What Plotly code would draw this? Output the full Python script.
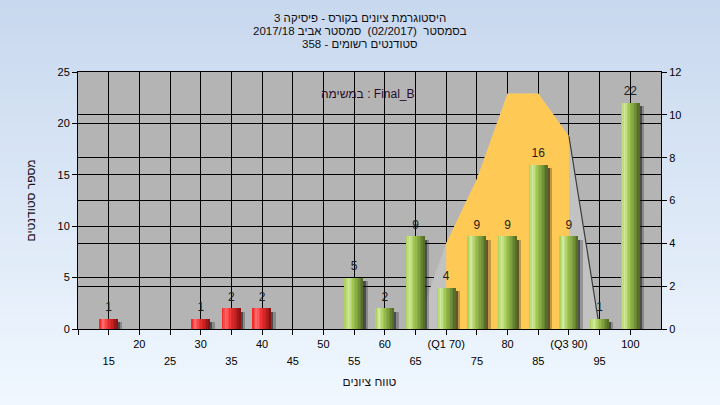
import plotly.graph_objects as go

# ---------------- data ----------------
categories = [15, 20, 25, 30, 35, 40, 45, 50, 55, 60, 65, 70, 75, 80, 85, 90, 95, 100]
counts = [1, 0, 0, 1, 2, 2, 0, 0, 5, 2, 9, 4, 9, 9, 16, 9, 1, 22]
pass_mark = 55

row1_vals = [10, 20, 30, 40, 50, 60, 70, 80, 90, 100]
row1_text = ["", "20", "30", "40", "50", "60", "(Q1 70)", "80", "(Q3 90)", "100"]
row2_vals = [15, 25, 35, 45, 55, 65, 75, 85, 95]
row2_text = ["15", "25", "35", "45", "55", "65", "75", "85", "95"]

curve_x = [65, 70, 75, 80, 85, 90, 95]
curve_y = [0, 4, 7, 11, 11, 9, 0]
q1, q3 = 70, 90

title_lines = [
    "היסטוגרמת ציונים בקורס - פיסיקה 3",
    "בסמסטר  (02/2017)  סמסטר אביב 2017/18",
    "סטודנטים רשומים - 358",
]
task_label = "במשימה : Final_B"
x_title = "טווח ציונים"
y_title = "מספר סטודנטים"

# ---------------- style helpers ----------------
W, H = 720, 405
ML, MR, MT, MB = 78, 59, 72, 76
PW, PH = W - ML - MR, H - MT - MB
FONT = "Liberation Sans, Arial, sans-serif"
BAR_W = 3.0
N_STRIPS = 12


def hex2rgb(h):
    h = h.lstrip("#")
    return tuple(int(h[i:i + 2], 16) for i in (0, 2, 4))


def interp(stops, t):
    for (t0, c0), (t1, c1) in zip(stops, stops[1:]):
        if t0 <= t <= t1:
            f = 0 if t1 == t0 else (t - t0) / (t1 - t0)
            a, b = hex2rgb(c0), hex2rgb(c1)
            return "rgb(%d,%d,%d)" % tuple(round(a[i] + (b[i] - a[i]) * f) for i in range(3))
    return stops[-1][1]


def py(pix):  # pixel row -> paper y
    return (H - MB - pix) / PH


red_stops = [(0, "#f01c1c"), (0.22, "#ff6c6c"), (0.45, "#f23434"), (0.75, "#c01e1e"), (1.0, "#7c1212")]
green_stops = [(0, "#a4cc52"), (0.22, "#d2ea9e"), (0.45, "#a2c652"), (0.75, "#7a9a3c"), (1.0, "#4c6824")]

fig = go.Figure()

# ---------------- area (right axis) ----------------
fig.add_trace(go.Scatter(
    x=curve_x, y=curve_y, mode="lines", fill="tozeroy",
    fillcolor="#c2c2c2", line=dict(width=0, color="#c2c2c2"),
    xaxis="x", yaxis="y2", hoverinfo="skip", showlegend=False))
mid_x = [x for x in curve_x if q1 <= x <= q3]
mid_y = [y for x, y in zip(curve_x, curve_y) if q1 <= x <= q3]
fig.add_trace(go.Scatter(
    x=mid_x, y=mid_y, mode="lines", fill="tozeroy",
    fillcolor="#fec955", line=dict(width=0, color="#fec955"),
    xaxis="x", yaxis="y2", hoverinfo="skip", showlegend=False))
edge_x = [x for x in curve_x if x >= q3]
edge_y = [y for x, y in zip(curve_x, curve_y) if x >= q3]
fig.add_trace(go.Scatter(
    x=edge_x, y=edge_y, mode="lines",
    line=dict(width=1.2, color="#3c3c3c"),
    xaxis="x", yaxis="y2", hoverinfo="skip", showlegend=False))

# ---------------- bars (left axis) ----------------
bx = [c for c, v in zip(categories, counts) if v > 0]
bv = [v for v in counts if v > 0]

# shadows
for off, wd, col in [(BAR_W / 2, 0.35, "rgba(20,20,20,0.65)"),
                     (BAR_W / 2 + 0.35, 0.4, "rgba(40,40,40,0.3)")]:
    fig.add_trace(go.Bar(
        x=bx, y=[v - 0.35 for v in bv], width=wd, offset=off,
        marker=dict(color=col, line=dict(width=0)),
        xaxis="x", yaxis="y", hoverinfo="skip", showlegend=False))

# gradient strips (cylinder look)
sw = BAR_W / N_STRIPS
for i in range(N_STRIPS):
    t = (i + 0.5) / N_STRIPS
    cols = [interp(red_stops, t) if c < pass_mark else interp(green_stops, t) for c in bx]
    fig.add_trace(go.Bar(
        x=bx, y=bv, width=sw * 1.08, offset=-BAR_W / 2 + i * sw,
        marker=dict(color=cols, line=dict(width=0)),
        xaxis="x", yaxis="y", hoverinfo="skip", showlegend=False))

# value labels (on the second x axis so that it is drawn)
fig.add_trace(go.Scatter(
    x=bx, y=bv, mode="markers+text", text=[str(v) for v in bv],
    marker=dict(size=6, color="rgba(0,0,0,0)"),
    textposition="top center", textfont=dict(family=FONT, size=12, color="#1e1e1e"),
    xaxis="x2", yaxis="y", hoverinfo="skip", showlegend=False, cliponaxis=False))

# ---------------- background gradient ----------------
shapes = []
n_bg = 45
px0, px1 = -ML / PW, (W - ML) / PW
top_c, bot_c = hex2rgb("#c8d8ee"), hex2rgb("#f0f7ff")
for k in range(n_bg):
    f = k / (n_bg - 1)
    col = "rgb(%d,%d,%d)" % tuple(round(top_c[i] + (bot_c[i] - top_c[i]) * f) for i in range(3))
    ytop = py(k * H / n_bg)
    ybot = py((k + 1) * H / n_bg)
    shapes.append(dict(type="rect", xref="paper", yref="paper", x0=px0, x1=px1,
                       y0=ybot - 0.002, y1=ytop, fillcolor=col, line=dict(width=0), layer="below"))
shapes.append(dict(type="rect", xref="paper", yref="paper", x0=0, x1=1, y0=0, y1=1,
                   fillcolor="#b4b4b4", line=dict(width=0), layer="below"))

axis_common = dict(ticks="outside", ticklen=5, tickcolor="black", tickwidth=1,
                   showgrid=True, gridcolor="black", gridwidth=1, zeroline=False,
                   automargin=False,
                   tickfont=dict(family=FONT, size=11, color="black"))

annotations = [dict(text=task_label, xref="paper", yref="paper", x=0.497, y=py(85),
                    showarrow=False, font=dict(family=FONT, size=12, color="#2a0a2a"))]
for line, yy in zip(title_lines, [17.5, 31, 44.5]):
    annotations.append(dict(text=line, xref="paper", yref="paper", x=(360 - ML) / PW, y=py(yy),
                            xanchor="center", yanchor="middle", showarrow=False,
                            font=dict(family=FONT, size=11.5, color="#101010")))

fig.update_layout(
    width=W, height=H,
    margin=dict(l=ML, r=MR, t=MT, b=MB, autoexpand=False),
    paper_bgcolor="#dde8f6", plot_bgcolor="#b4b4b4",
    barmode="overlay", bargap=0,
    showlegend=False,
    shapes=shapes,
    xaxis=dict(range=[10, 105], tickmode="array", tickvals=row1_vals, ticktext=row1_text,
               showline=True, linecolor="black", linewidth=1, mirror=True,
               anchor="y2",
               title=dict(text=x_title, standoff=28, font=dict(family=FONT, size=12, color="#1a1020")),
               **axis_common),
    xaxis2=dict(range=[10, 105], overlaying="x", anchor="y2", side="bottom",
                tickmode="array", tickvals=row2_vals, ticktext=row2_text,
                ticklabelstandoff=17, showline=False, **axis_common),
    yaxis=dict(range=[0, 25], dtick=5, overlaying="y2", side="left", anchor="x",
               showline=True, linecolor="black", linewidth=1,
               title=dict(text=y_title, standoff=19, font=dict(family=FONT, size=12, color="#1a1020")),
               **axis_common),
    yaxis2=dict(range=[0, 12], dtick=2, side="right", anchor="x",
                showline=True, linecolor="black", linewidth=1, **axis_common),
    annotations=annotations,
)

fig.write_html("out.html", config={"displayModeBar": False},
               post_script="document.body.style.margin='0';")
